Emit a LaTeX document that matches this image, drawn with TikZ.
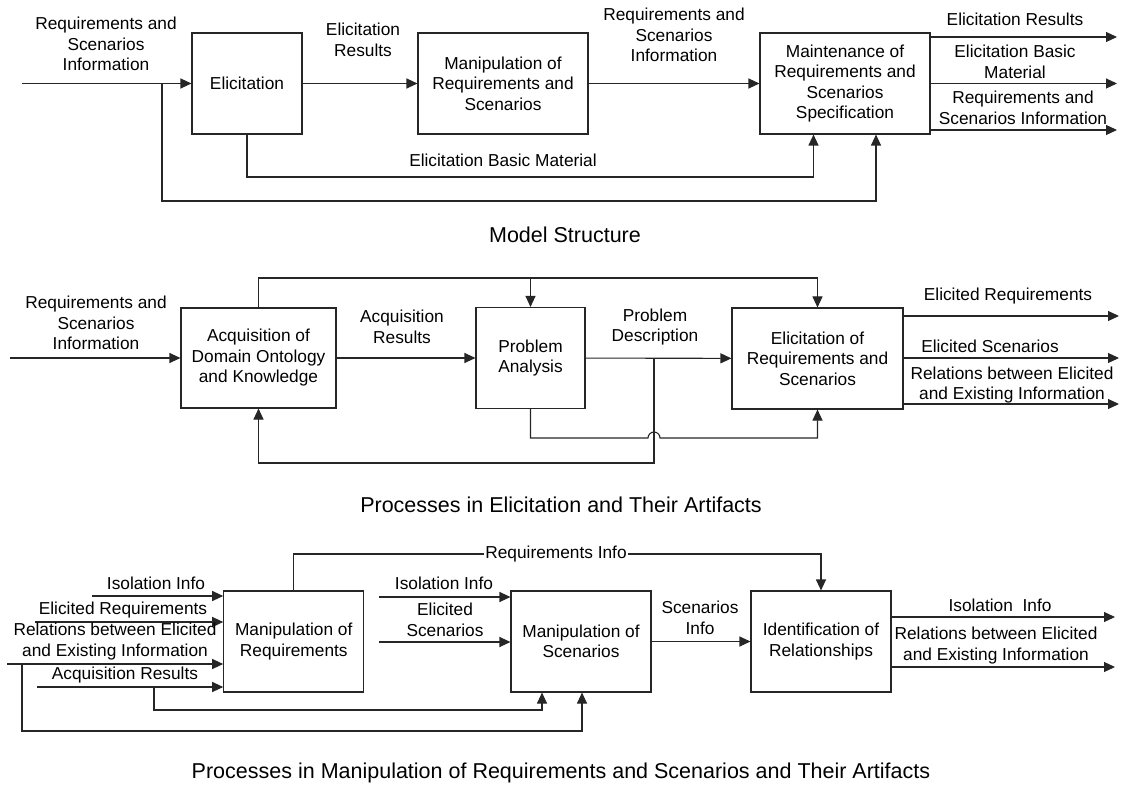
\documentclass[tikz,border=0pt]{standalone}
\usepackage{fontspec}
\setmainfont{Liberation Sans}
\usetikzlibrary{arrows.meta}
\begin{document}
\begin{tikzpicture}[x=1pt,y=-1pt,
  line/.style={draw=black!85, line width=1.1pt},
  arr/.style={line, -{Triangle[length=11pt,width=10pt]}},
  proc/.style={draw=black!85, line width=1.1pt, fill=white, align=center,
    inner sep=2pt, font=\fontsize{17.3}{20.5}\selectfont},
  lbl/.style={align=center, inner sep=0pt, font=\fontsize{17.3}{20.5}\selectfont},
  ttl/.style={inner sep=0pt, font=\fontsize{21.5}{25}\selectfont}]
\useasboundingbox (0,0) rectangle (1122,786);

% ---------- Model structure ----------
\node[proc, minimum width=110, minimum height=101] (elic) at (247,83.5) {Elicitation};
\node[proc, minimum width=170, minimum height=101] (manip) at (503,83.5) {Manipulation of\\Requirements and\\Scenarios};
\node[proc, minimum width=170, minimum height=101] (maint) at (845,83.5) {Maintenance of\\Requirements and\\Scenarios\\Specification};

\coordinate (in1) at (22,83.5);
\coordinate (br1) at (162,83.5);
\coordinate (br1e) at (876,201);
\coordinate (eb) at (813.5,177);
\coordinate (o1a) at (1117,37);
\coordinate (o1b) at (1117,83.5);
\coordinate (o1c) at (1117,130);

\draw[arr] (in1) -- (elic);
\draw[arr] (elic) -- (manip);
\draw[arr] (manip) -- (maint);
\draw[arr] (maint.east |- o1a) -- (o1a);
\draw[arr] (maint.east |- o1b) -- (o1b);
\draw[arr] (maint.east |- o1c) -- (o1c);
\draw[arr] (elic.south) |- (eb) -- (eb |- maint.south);
\draw[arr] (br1) |- (br1e) -- (br1e |- maint.south);

\node[lbl] (l1a) at (106,44) {Requirements and\\Scenarios\\Information};
\node[lbl] (l1b) at (363,40) {Elicitation\\Results};
\node[lbl] (l1c) at (674,35) {Requirements and\\Scenarios\\Information};
\node[lbl] (l1d) at (1015,19) {Elicitation Results};
\node[lbl] (l1e) at (1015,62) {Elicitation Basic\\Material};
\node[lbl] (l1f) at (1023,108) {Requirements and\\Scenarios Information};
\node[lbl] (l1g) at (503,160) {Elicitation Basic Material};
\node[ttl] (t1) at (565,235) {Model Structure};

% ---------- Processes in elicitation ----------
\node[proc, minimum width=155, minimum height=100] (acq) at (258.5,358) {Acquisition of\\Domain Ontology\\and Knowledge};
\node[proc, minimum width=109, minimum height=101] (pa) at (530.5,358) {Problem\\Analysis};
\node[proc, minimum width=171, minimum height=101] (er) at (817.5,358.5) {Elicitation of\\Requirements and\\Scenarios};

\coordinate (in2) at (10,358);
\coordinate (t2) at (817.5,278);
\coordinate (pd) at (654,358);
\coordinate (fb) at (654,463);
\coordinate (hop) at (648,438);
\coordinate (o2a) at (1119,316);
\coordinate (o2b) at (1119,358);
\coordinate (o2c) at (1119,404);

\draw[arr] (in2) -- (acq);
\draw[arr] (acq) -- (pa);
\draw[arr] (pa) -- (er);
\draw[arr] (acq.north) |- (t2) -- (er.north);
\draw[arr] (pa.north |- t2) -- (pa.north);
\draw[arr] (pd) -- (fb) -| (acq.south);
\draw[arr] (pa.south) |- (hop) arc[start angle=180, end angle=0, radius=6pt]
  -- (er.south |- hop) -- (er.south);
\draw[arr] (er.east |- o2a) -- (o2a);
\draw[arr] (er.east |- o2b) -- (o2b);
\draw[arr] (er.east |- o2c) -- (o2c);

\node[lbl] (l2a) at (96,323) {Requirements and\\Scenarios\\Information};
\node[lbl] (l2b) at (402,327) {Acquisition\\Results};
\node[lbl] (l2c) at (655,327) {Problem\\Description};
\node[lbl] (l2d) at (1008,296) {Elicited Requirements};
\node[lbl] (l2e) at (990,346) {Elicited Scenarios};
\node[lbl] (l2f) at (1012,385) {Relations between Elicited\\and Existing Information};
\node[ttl] (t2l) at (561,505) {Processes in Elicitation and Their Artifacts};

% ---------- Processes in manipulation ----------
\node[proc, minimum width=140, minimum height=101] (mr) at (293.75,641.5) {Manipulation of\\Requirements};
\node[proc, minimum width=140, minimum height=101] (ms) at (581,641.5) {Manipulation of\\Scenarios};
\node[proc, minimum width=140, minimum height=101] (ir) at (821,641.5) {Identification of\\Relationships};

\coordinate (i1) at (92,596);
\coordinate (i2) at (35,622);
\coordinate (i3) at (7,664);
\coordinate (i4) at (37,687);
\coordinate (b3a) at (154,687);
\coordinate (b3ae) at (542,710);
\coordinate (b3b) at (22,664);
\coordinate (b3be) at (582,731);
\coordinate (t3) at (821,554);
\coordinate (i5) at (379,597);
\coordinate (i6) at (379,642);
\coordinate (o3a) at (1115,617);
\coordinate (o3b) at (1115,667);

\draw[arr] (i1) -- (mr.west |- i1);
\draw[arr] (i2) -- (mr.west |- i2);
\draw[arr] (i3) -- (mr.west |- i3);
\draw[arr] (i4) -- (mr.west |- i4);
\draw[arr] (b3a) |- (b3ae) -- (b3ae |- ms.south);
\draw[arr] (b3b) |- (b3be) -- (b3be |- ms.south);
\draw[arr] (mr.north) |- (t3) -- (ir.north);
\draw[arr] (i5) -- (ms.west |- i5);
\draw[arr] (i6) -- (ms.west |- i6);
\draw[arr] (ms) -- (ir);
\draw[arr] (ir.east |- o3a) -- (o3a);
\draw[arr] (ir.east |- o3b) -- (o3b);

\node[lbl, fill=white, inner xsep=1pt] (l3a) at (556,554) {Requirements Info};
\node[lbl] (l3b) at (156,583) {Isolation Info};
\node[lbl] (l3c) at (123,610) {Elicited Requirements};
\node[lbl] (l3d) at (115,641.5) {Relations between Elicited\\and Existing Information};
\node[lbl] (l3e) at (125,675) {Acquisition Results};
\node[lbl] (l3f) at (444,583) {Isolation Info};
\node[lbl] (l3g) at (445,620) {Elicited\\Scenarios};
\node[lbl] (l3h) at (700,618) {Scenarios\\Info};
\node[lbl] (l3i) at (1000,605) {Isolation\ \ Info};
\node[lbl] (l3j) at (996,645.5) {Relations between Elicited\\and Existing Information};
\node[ttl] (t3l) at (561,773) {Processes in Manipulation of Requirements and Scenarios and Their Artifacts};
\end{tikzpicture}
\end{document}
